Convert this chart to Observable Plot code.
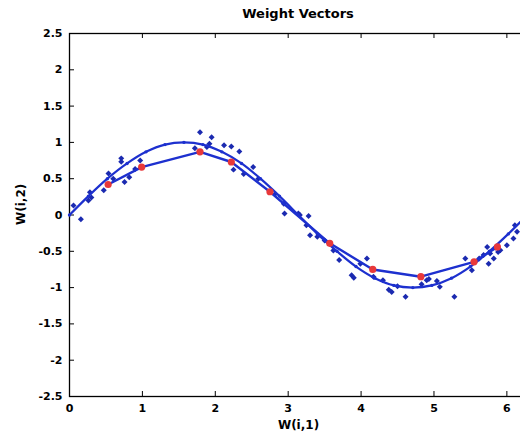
<!DOCTYPE html>
<html><head><meta charset="utf-8">
<script src="https://cdn.jsdelivr.net/npm/d3@7"></script>
<script src="https://cdn.jsdelivr.net/npm/@observablehq/plot@0.6"></script>
<style>
body{margin:0;background:#fff;width:520px;height:441px;overflow:hidden;}
#title{height:27px;box-sizing:border-box;padding-top:7px;margin-left:69px;width:458px;text-align:center;font:bold 13px "DejaVu Sans",sans-serif;line-height:14px;color:#000;}
</style></head><body>
<div id="title">Weight Vectors</div>
<div id="chart"></div>
<script>
// Axis limits and ticks
const xMin = 0, xMax = 6.283;
const yMin = -2.5, yMax = 2.5;
const xTicks = [0, 1, 2, 3, 4, 5, 6];
const yTicks = [-2.5, -2, -1.5, -1, -0.5, 0, 0.5, 1, 1.5, 2, 2.5];

// Smooth reference curve
const curveX = [0, 0.26, 0.52, 0.79, 1.05, 1.31, 1.57, 1.83, 2.09, 2.36, 2.62, 2.88, 3.14, 3.40, 3.67, 3.93, 4.19, 4.45, 4.71, 4.97, 5.24, 5.50, 5.76, 6.02, 6.28];
const curveY = [0, 0.26, 0.50, 0.71, 0.87, 0.97, 1.00, 0.97, 0.87, 0.71, 0.50, 0.26, 0, -0.26, -0.50, -0.71, -0.87, -0.97, -1.00, -0.97, -0.87, -0.71, -0.50, -0.26, 0];

// Weight vectors (red nodes, connected)
const wX = [0.53, 0.99, 1.79, 2.22, 2.75, 3.57, 4.16, 4.82, 5.55, 5.87];
const wY = [0.42, 0.66, 0.87, 0.73, 0.32, -0.39, -0.75, -0.85, -0.645, -0.44];

// Input samples (blue diamonds)
const sX = [0.055, 0.156, 0.26, 0.28, 0.30, 0.47, 0.535, 0.60, 0.71, 0.71, 0.755, 0.82, 0.90, 0.97,
  1.72, 1.79, 1.885, 1.92, 1.95, 2.12, 2.22, 2.33, 2.25, 2.39, 2.52, 2.59, 2.82, 2.94, 2.95, 3.14, 3.16, 3.28, 3.25, 3.30,
  3.40, 3.50, 3.62, 3.70, 3.87, 3.90, 3.99, 4.08, 4.17, 4.30, 4.38, 4.42, 4.50, 4.61, 4.83, 4.90, 4.93, 5.04, 5.08, 5.28,
  5.43, 5.52, 5.62, 5.68, 5.73, 5.75, 5.77, 5.82, 5.85, 5.88, 5.91, 6.00, 6.09, 6.11, 6.14];
const sY = [0.13, -0.06, 0.20, 0.315, 0.24, 0.34, 0.57, 0.50, 0.78, 0.735, 0.455, 0.52, 0.635, 0.75,
  0.92, 1.14, 0.935, 0.98, 1.07, 0.96, 0.945, 0.875, 0.625, 0.565, 0.66, 0.50, 0.29, 0.155, 0.02, 0.02, 0.0, -0.014, -0.14, -0.28,
  -0.30, -0.35, -0.49, -0.62, -0.83, -0.865, -0.67, -0.60, -0.85, -0.90, -1.03, -1.06, -0.98, -1.125, -0.955, -0.90, -0.88, -0.91, -0.99, -1.125,
  -0.60, -0.76, -0.60, -0.55, -0.44, -0.67, -0.53, -0.60, -0.45, -0.51, -0.485, -0.415, -0.325, -0.14, -0.23];

const curve = curveX.map((x, i) => ({x, y: curveY[i]}));
const weights = wX.map((x, i) => ({x, y: wY[i]}));
const samples = sX.map((x, i) => ({x, y: sY[i]}));

const blue = "#1d30cf", dark = "#1b2ab0", red = "#e8383a";
const W = 520, H = 414, mL = 69, mR = -7, mT = 6, mB = 45, tick = 5;
const frameW = W - mL - mR, frameH = H - mT - mB;

const chart = Plot.plot({
  width: W, height: H,
  marginLeft: mL, marginRight: mR, marginTop: mT, marginBottom: mB,
  style: {fontFamily: "DejaVu Sans, sans-serif", fontSize: "11px", fontWeight: "bold", color: "#000", background: "transparent"},
  x: {domain: [xMin, xMax]},
  y: {domain: [yMin, yMax]},
  marks: [
    Plot.frame({stroke: "#000", strokeWidth: 1.3}),
    Plot.tickX(xTicks, {x: d => d, insetTop: frameH - tick, stroke: "#000"}),
    Plot.tickX(xTicks, {x: d => d, insetBottom: frameH - tick, stroke: "#000"}),
    Plot.tickY(yTicks, {y: d => d, insetRight: frameW - tick, stroke: "#000"}),
    Plot.axisX(xTicks, {anchor: "bottom", tickSize: 0, tickPadding: 8, tickFormat: d => String(d), label: null}),
    Plot.axisY(yTicks, {anchor: "left", tickSize: 0, tickPadding: 7, tickFormat: d => String(d), label: null}),
    Plot.dot(samples, {x: "x", y: "y", symbol: "diamond2", r: 2.7, fill: dark, stroke: "none"}),
    Plot.line(curve, {x: "x", y: "y", curve: "catmull-rom", stroke: blue, strokeWidth: 2.2}),
    Plot.dot(curve, {x: "x", y: "y", r: 1.7, fill: blue}),
    Plot.line(weights, {x: "x", y: "y", stroke: blue, strokeWidth: 2.4}),
    Plot.dot(weights, {x: "x", y: "y", r: 3.6, fill: red}),
    Plot.text(["W(i,1)"], {frameAnchor: "bottom", dy: 24, lineAnchor: "top", fontSize: 12, text: d => d}),
    Plot.text(["W(i,2)"], {frameAnchor: "left", rotate: -90, dx: -48, dy: 10, fontSize: 12, text: d => d})
  ]
});
document.getElementById("chart").appendChild(chart);
</script>
</body></html>
